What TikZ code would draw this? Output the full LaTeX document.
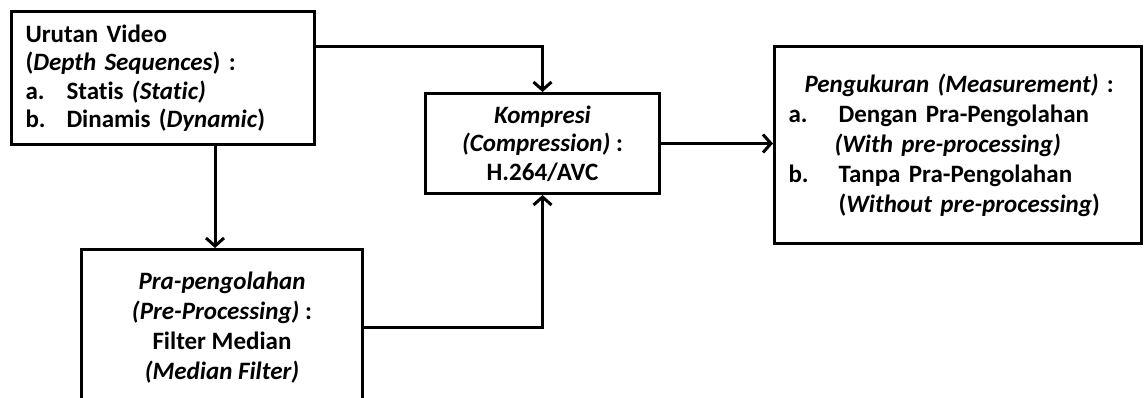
\documentclass[tikz,border=0pt]{standalone}
\usepackage{fontspec}
\setmainfont{Carlito}[Ligatures=NoCommon]
\usetikzlibrary{arrows.meta}
\tikzset{
  box/.style={draw=black, line width=3pt, anchor=north west, inner ysep=0pt,
    font=\bfseries\fontsize{25}{28.5}\selectfont},
  arr/.style={draw=black, line width=3pt, -{Straight Barb[length=8pt,width=18pt]}}
}
\begin{document}
\begin{tikzpicture}[x=1pt,y=-1pt]
\useasboundingbox (0,0) rectangle (1144,398);
\begin{scope}
\clip (0,0) rectangle (1144,398);
\node[box, minimum width=303pt, minimum height=133pt, inner xsep=14pt, text width=275pt, align=left] (A) at (10,10)
 {Urutan Video\\
  (\textit{Depth Sequences}) :\\
  \makebox[41pt][l]{a.}Statis \textit{(Static)}\\
  \makebox[41pt][l]{b.}Dinamis (\textit{Dynamic})};
\node[box, minimum width=234pt, minimum height=100pt, align=center] (K) at (424,92)
 {\textit{Kompresi}\\ \textit{(Compression)} :\\ H.264/AVC};
\node[box, minimum width=367pt, minimum height=197pt, inner xsep=14pt, text width=339pt, align=left,
   font=\bfseries\fontsize{25}{30}\selectfont] (M) at (773,45)
 {\hspace*{16pt}\textit{Pengukuran (Measurement)} :\\
  \makebox[50pt][l]{a.}Dengan Pra-Pengolahan\\
  \hspace*{46pt}\textit{(With pre-processing)}\\
  \makebox[50pt][l]{b.}Tanpa Pra-Pengolahan\\
  \hspace*{50pt}(\textit{Without pre-processing})};
\node[box, minimum width=281pt, minimum height=156pt, align=center,
   font=\bfseries\fontsize{25}{30}\selectfont] (P) at (80,248)
 {\textit{Pra-pengolahan}\\ \textit{(Pre-Processing)} :\\ Filter Median\\ \textit{(Median Filter)}};
\end{scope}
\coordinate (Aout) at ([yshift=-37pt]A.north east);
\coordinate (Adown) at ([xshift=52pt]A.south);
\draw[arr] (Aout) -| (K.north);
\draw[arr] (K.east) -- (M.west |- K.east);
\draw[arr] (Adown) -- (Adown |- P.north);
\draw[arr] (P.east) -| (K.south);
\end{tikzpicture}
\end{document}
